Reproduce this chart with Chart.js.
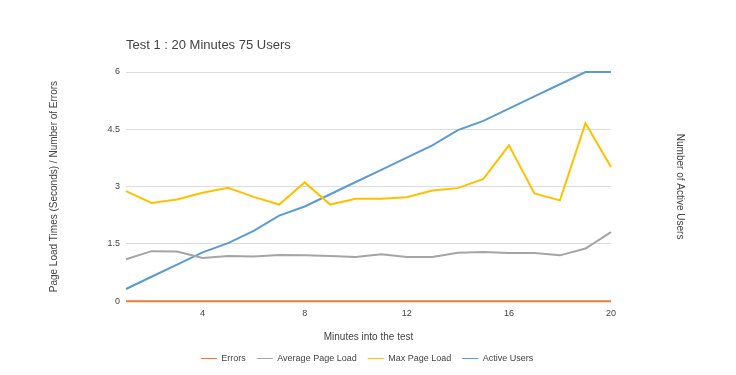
<!DOCTYPE html>
<html>
<head>
<meta charset="utf-8">
<script src="https://cdn.jsdelivr.net/npm/chart.js@4.4.1/dist/chart.umd.min.js"></script>
<style>
  html, body { margin: 0; padding: 0; background: #fff; }
  #wrap { width: 736px; height: 375px; position: relative; }
</style>
</head>
<body>
<div id="wrap"><canvas id="chart" width="736" height="375"></canvas></div>
<script>
// --- Data ---
const minutes = ['1','2','3','4','5','6','7','8','9','10','11','12','13','14','15','16','17','18','19','20'];
const errors = [0,0,0,0,0,0,0,0,0,0,0,0,0,0,0,0,0,0,0,0];
const avgPageLoad = [1.10,1.31,1.30,1.13,1.18,1.17,1.21,1.20,1.18,1.16,1.23,1.16,1.16,1.27,1.29,1.26,1.26,1.20,1.38,1.81];
const maxPageLoad = [2.88,2.57,2.66,2.84,2.97,2.73,2.53,3.11,2.53,2.68,2.68,2.72,2.90,2.96,3.20,4.08,2.82,2.64,4.66,3.51];
const activeUsers = [4,8,12,16,19,23,28,31,35,39,43,47,51,56,59,63,67,71,75,75];
const yTicks = [0, 1.5, 3, 4.5, 6];

const FONT = '"Liberation Sans", Arial, sans-serif';

// --- Title drawn at the left edge of the plot area ---
const titlePlugin = {
    id: 'leftTitle',
    afterDraw(chart) {
        const ctx = chart.ctx;
        ctx.save();
        ctx.font = '13px ' + FONT;
        ctx.fillStyle = '#444';
        ctx.textBaseline = 'middle';
        ctx.textAlign = 'left';
        ctx.fillText('Test 1 : 20 Minutes 75 Users', chart.chartArea.left, 45);
        ctx.restore();
    }
};

const ctx = document.getElementById('chart').getContext('2d');
new Chart(ctx, {
    type: 'line',
    data: {
        labels: minutes,
        datasets: [
            { label: 'Errors', data: errors, borderColor: '#ED7D31', backgroundColor: '#ED7D31', yAxisID: 'y', order: 1 },
            { label: 'Average Page Load', data: avgPageLoad, borderColor: '#A5A5A5', backgroundColor: '#A5A5A5', yAxisID: 'y', order: 2 },
            { label: 'Max Page Load', data: maxPageLoad, borderColor: '#FFC000', backgroundColor: '#FFC000', yAxisID: 'y', order: 3 },
            { label: 'Active Users', data: activeUsers, borderColor: '#5B9BD5', backgroundColor: '#5B9BD5', yAxisID: 'y1', order: 4 }
        ]
    },
    options: {
        responsive: false,
        animation: false,
        devicePixelRatio: 1,
        elements: {
            line: { borderWidth: 2, tension: 0 },
            point: { radius: 0, hoverRadius: 0 }
        },
        datasets: { line: { clip: false } },
        layout: { padding: { left: 44, right: 46, top: 72, bottom: 2 } },
        scales: {
            x: {
                grid: { display: false, drawTicks: false },
                border: { display: false },
                ticks: {
                    autoSkip: false, maxRotation: 0, padding: 7,
                    color: '#444', font: { family: FONT, size: 9 },
                    callback: (val, idx) => ((idx + 1) % 4 === 0 ? minutes[idx] : '')
                },
                title: { display: true, text: 'Minutes into the test', color: '#444', font: { family: FONT, size: 10 }, padding: { top: 5, bottom: 0 } }
            },
            y: {
                position: 'left',
                min: 0, max: 6,
                afterBuildTicks: scale => { scale.ticks = yTicks.map(v => ({ value: v })); },
                afterFit: scale => { scale.width = 82; },
                grid: { color: '#ddd', drawTicks: false },
                border: { display: false },
                ticks: { padding: 6, color: '#444', font: { family: FONT, size: 9 } },
                title: { display: true, text: 'Page Load Times (Seconds) / Number of Errors', color: '#444', font: { family: FONT, size: 10 }, padding: { top: 4, bottom: 0 } }
            },
            y1: {
                position: 'right',
                min: 0, max: 75,
                afterFit: scale => { scale.width = 79; },
                grid: { display: false },
                border: { display: false },
                ticks: { display: false },
                title: { display: true, text: 'Number of Active Users', color: '#444', font: { family: FONT, size: 10 }, padding: { top: 4, bottom: 0 } }
            }
        },
        plugins: {
            legend: {
                position: 'bottom',
                labels: {
                    usePointStyle: true, pointStyle: 'line', pointStyleWidth: 16, boxHeight: 9,
                    color: '#444', font: { family: FONT, size: 9 }, padding: 11
                }
            },
            tooltip: { enabled: false }
        }
    },
    plugins: [titlePlugin]
});
</script>
</body>
</html>
